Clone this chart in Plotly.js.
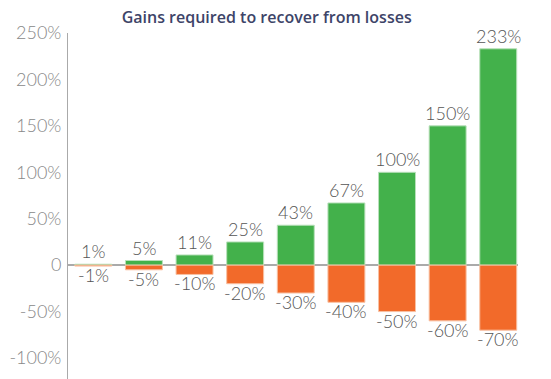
<!DOCTYPE html>
<html><head><meta charset="utf-8">
<script src="https://cdn.plot.ly/plotly-3.0.1.min.js"></script>
<style>html,body{margin:0;padding:0;background:#fff}#chart{width:551px;height:379px}</style>
</head><body><div id="chart"></div>
<script>
const categories = [0,1,2,3,4,5,6,7,8];
const gains = [1,5,11,25,43,67,100,150,233];
const losses = [-1,-5,-10,-20,-30,-40,-50,-60,-70];
const tickVals = [-100,-50,0,50,100,150,200,250];
const tickText = ['-100%','-50%','0','50%','100%','150%','200%','250%'];

const labelFont = {family:'Lato, sans-serif', size:18, weight:300, color:'#555'};
const traces = [
  {type:'bar', x:categories, y:gains, width:0.73,
   marker:{color:'#43b14b', line:{color:'#b8e0ba', width:1}}, hoverinfo:'skip'},
  {type:'bar', x:categories, y:losses, width:0.73,
   marker:{color:'#f26a2a', line:{color:'#f8c0a2', width:1}}, hoverinfo:'skip'}
];
const annotations = [];
categories.forEach((c, i) => {
  annotations.push({x:c, y:gains[i], text:gains[i]+'%', showarrow:false, xanchor:'center',
    yanchor:'middle', yshift:13, font:labelFont});
  annotations.push({x:c, y:losses[i], text:losses[i]+'%', showarrow:false, xanchor:'center',
    yanchor:'middle', yshift:-9, font:labelFont});
});
const layout = {
  width:551, height:379,
  margin:{l:68, r:33, t:33, b:0, pad:0},
  paper_bgcolor:'#fff', plot_bgcolor:'#fff',
  showlegend:false, barmode:'overlay', annotations:annotations,
  title:{text:'Gains required to recover from losses', x:0.484, xanchor:'center', y:0.955, yanchor:'middle',
    font:{family:'"Open Sans", sans-serif', size:16, weight:600, color:'#3d4468'}},
  xaxis:{range:[-0.5,8.39], showticklabels:false, showgrid:false, zeroline:false, showline:false, ticks:''},
  yaxis:{range:[-122.6,250], tickvals:tickVals, ticktext:tickText, showgrid:false,
    zeroline:true, zerolinecolor:'#aaa', zerolinewidth:1.5,
    showline:true, linecolor:'#aaa', linewidth:1, ticks:'', ticklabelstandoff:2,
    tickfont:{family:'Lato, sans-serif', size:18, weight:300, color:'#888'}}
};
Plotly.newPlot('chart', traces, layout, {displayModeBar:false, staticPlot:true});
</script></body></html>
